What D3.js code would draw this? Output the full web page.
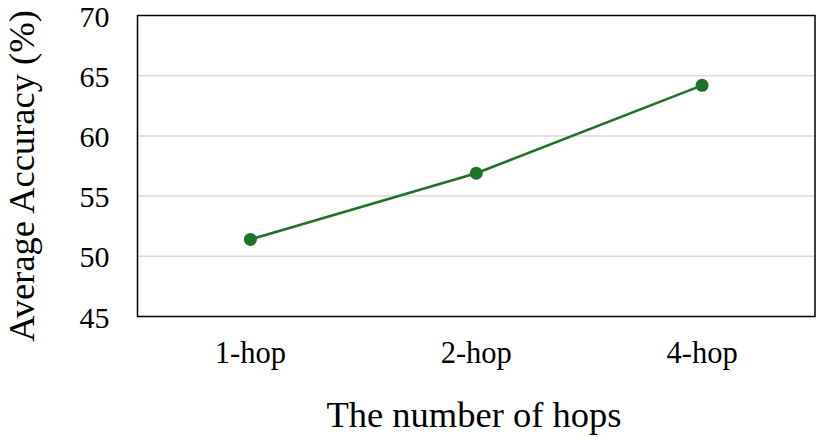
<!DOCTYPE html>
<html>
<head>
<meta charset="utf-8">
<script src="https://cdn.jsdelivr.net/npm/d3@7"></script>
<style>
  body { margin: 0; background: #fff; }
  text { font-family: "Liberation Serif", "Times New Roman", serif; fill: #000; }
</style>
</head>
<body>
<script>
var categorias = ["1-hop", "2-hop", "4-hop"];
var precision = [51.4, 56.9, 64.2];
var marcasY = [45, 50, 55, 60, 65, 70];

var w = 822, h = 437;
var m = { top: 15.5, right: 7, bottom: 120.5, left: 137.5 };

var svg = d3.select("body").append("svg")
    .attr("width", w)
    .attr("height", h);

var x = d3.scaleBand()
    .domain(categorias)
    .range([m.left, w - m.right]);

var y = d3.scaleLinear()
    .domain([45, 70])
    .range([h - m.bottom, m.top]);

// lineas de la rejilla
svg.selectAll("line.grid")
    .data(marcasY.slice(1, -1))
    .enter().append("line")
    .attr("class", "grid")
    .attr("x1", m.left).attr("x2", w - m.right)
    .attr("y1", function(d){ return y(d); })
    .attr("y2", function(d){ return y(d); })
    .attr("stroke", "#d9d9d9")
    .attr("stroke-width", 1.5);

// marco
svg.append("rect")
    .attr("x", m.left).attr("y", m.top)
    .attr("width", w - m.right - m.left)
    .attr("height", h - m.bottom - m.top)
    .attr("fill", "none")
    .attr("stroke", "#000")
    .attr("stroke-width", 1.5);

// eje y
var ejeY = svg.append("g")
    .attr("transform", "translate(" + m.left + ",0)")
    .call(d3.axisLeft(y).tickValues(marcasY).tickSize(0).tickPadding(28));
ejeY.select(".domain").remove();
ejeY.selectAll("text").style("font-size", "30px").attr("dy", "0.35em");

// eje x
var ejeX = svg.append("g")
    .attr("transform", "translate(0," + (h - m.bottom) + ")")
    .call(d3.axisBottom(x).tickSize(0).tickPadding(25));
ejeX.select(".domain").remove();
ejeX.selectAll("text").style("font-size", "30.5px");

// linea
var linea = d3.line()
    .x(function(d, i){ return x(categorias[i]) + x.bandwidth() / 2; })
    .y(function(d){ return y(d); });

svg.append("path")
    .datum(precision)
    .attr("d", linea)
    .attr("fill", "none")
    .attr("stroke", "#1e7228")
    .attr("stroke-width", 2.5);

svg.selectAll("circle")
    .data(precision)
    .enter().append("circle")
    .attr("cx", function(d, i){ return x(categorias[i]) + x.bandwidth() / 2; })
    .attr("cy", function(d){ return y(d); })
    .attr("r", 6.5)
    .attr("fill", "#1e7228");

// titulos
svg.append("text")
    .attr("x", 474)
    .attr("y", 427)
    .attr("text-anchor", "middle")
    .style("font-size", "36.5px")
    .text("The number of hops");

svg.append("text")
    .attr("transform", "translate(34,176) rotate(-90)")
    .attr("text-anchor", "middle")
    .style("font-size", "36.5px")
    .text("Average Accuracy (%)");
</script>
</body>
</html>
